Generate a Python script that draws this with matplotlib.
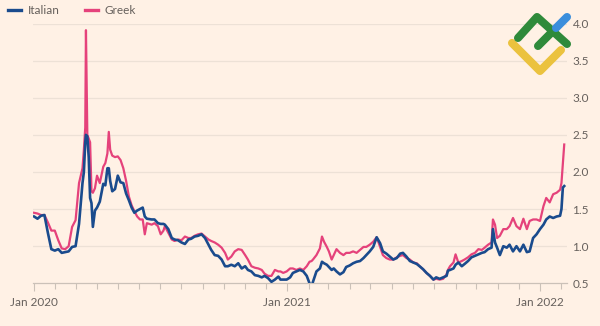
import matplotlib
matplotlib.use("Agg")
import matplotlib.pyplot as plt
import matplotlib.dates as mdates
from matplotlib.lines import Line2D
import pandas as pd

plt.rcParams['font.family'] = ['Lato', 'DejaVu Sans']

# --- data (days since 1 Jan 2020) ---
days = [0, 5, 10, 15, 20, 25, 30, 35, 40, 45, 50, 55, 60, 65, 70, 72, 74, 75, 77, 79,
        81, 83, 85, 88, 91, 95, 100, 103, 106, 108, 110, 113, 117, 121, 125, 129, 133, 137, 141, 145,
        149, 153,
        157, 160, 163, 170, 174, 179, 183, 187, 189, 194, 199, 203, 208, 213, 218, 223, 227, 232,
        237, 242, 247, 252, 256, 261, 266, 271, 276, 280, 285, 290, 295, 300, 305, 309, 314, 319,
        324, 329, 333, 338, 343, 348, 353,
        356, 360, 365, 370, 374, 379, 384, 389, 394, 398, 401, 403, 408, 413, 416, 419, 423, 426,
        430, 433, 437, 442, 447, 451, 456, 461, 466, 471, 476, 480, 485, 490, 495, 500, 504, 509,
        514, 519, 524, 529, 533, 538,
        543, 548, 553, 557, 562, 567, 572, 577, 581, 586, 591, 596, 598, 601, 606, 609, 613, 618,
        622, 627, 632, 637, 642, 647, 651, 656, 661, 663, 666, 669, 673, 678, 683, 687, 692, 697,
        702, 707, 712, 716, 721, 726, 731, 736, 740, 745, 750, 755, 760, 762, 764, 766]

italian = [1.40, 1.37, 1.41, 1.42, 1.18, 0.96, 0.94, 0.96, 0.91, 0.92, 0.93, 0.99, 1.00, 1.30, 1.85, 2.00, 2.40, 2.50, 2.48, 2.20,
           1.65, 1.58, 1.26, 1.48, 1.52, 1.60, 1.84, 1.82, 2.05, 2.05, 1.88, 1.74, 1.77, 1.95, 1.86, 1.85, 1.71, 1.62, 1.52, 1.45,
           1.48, 1.50,
           1.52, 1.40, 1.37, 1.36, 1.36, 1.31, 1.30, 1.30, 1.29, 1.23, 1.11, 1.09, 1.08, 1.05, 1.03, 1.09, 1.10, 1.13,
           1.14, 1.16, 1.11, 1.02, 0.95, 0.88, 0.87, 0.82, 0.73, 0.73, 0.75, 0.73, 0.77, 0.70, 0.73, 0.68, 0.66, 0.61,
           0.60, 0.58, 0.60, 0.57, 0.52, 0.55, 0.59,
           0.55, 0.55, 0.55, 0.58, 0.64, 0.66, 0.68, 0.66, 0.60, 0.50, 0.46, 0.52, 0.66, 0.70, 0.79, 0.77, 0.75, 0.72,
           0.68, 0.70, 0.66, 0.62, 0.65, 0.72, 0.74, 0.77, 0.79, 0.80, 0.84, 0.88, 0.93, 0.99, 1.12, 1.04, 0.93, 0.90,
           0.86, 0.82, 0.84, 0.90, 0.91, 0.86,
           0.80, 0.78, 0.76, 0.73, 0.69, 0.64, 0.60, 0.55, 0.58, 0.56, 0.58, 0.60, 0.67, 0.68, 0.70, 0.75, 0.78, 0.73,
           0.76, 0.80, 0.85, 0.87, 0.89, 0.91, 0.92, 0.96, 0.98, 1.23, 1.05, 0.98, 0.88, 1.00, 0.98, 1.02, 0.93, 1.00,
           0.93, 1.02, 0.92, 0.93, 1.11, 1.16, 1.23, 1.29, 1.36, 1.40, 1.38, 1.40, 1.41, 1.50, 1.79, 1.81]

greek = [1.45, 1.44, 1.42, 1.42, 1.32, 1.21, 1.21, 1.08, 0.97, 0.96, 1.00, 1.26, 1.35, 1.85, 2.05, 2.30, 2.60, 3.91, 2.50, 2.45,
         2.40, 1.74, 1.72, 1.78, 1.95, 1.85, 2.07, 2.12, 2.25, 2.54, 2.30, 2.22, 2.20, 2.21, 2.16, 2.05, 1.88, 1.67, 1.55, 1.47,
         1.40, 1.36,
         1.36, 1.16, 1.31, 1.29, 1.31, 1.27, 1.16, 1.21, 1.27, 1.18, 1.09, 1.07, 1.09, 1.08, 1.13, 1.11, 1.11, 1.14,
         1.16, 1.17, 1.13, 1.09, 1.07, 1.05, 1.02, 0.98, 0.91, 0.82, 0.86, 0.93, 0.96, 0.95, 0.88, 0.82, 0.73, 0.71,
         0.70, 0.68, 0.63, 0.60, 0.60, 0.68, 0.66,
         0.66, 0.64, 0.66, 0.70, 0.70, 0.68, 0.70, 0.68, 0.73, 0.79, 0.80, 0.82, 0.88, 0.97, 1.13, 1.06, 0.99, 0.93,
         0.82, 0.88, 0.96, 0.91, 0.88, 0.91, 0.91, 0.93, 0.91, 0.95, 0.99, 0.99, 1.02, 1.06, 1.12, 0.99, 0.88, 0.84,
         0.82, 0.82, 0.85, 0.87, 0.88, 0.84,
         0.82, 0.78, 0.77, 0.73, 0.69, 0.64, 0.60, 0.55, 0.56, 0.55, 0.56, 0.62, 0.68, 0.73, 0.78, 0.89, 0.78, 0.80,
         0.82, 0.85, 0.89, 0.91, 0.96, 0.95, 0.98, 1.02, 1.05, 1.36, 1.29, 1.11, 1.14, 1.23, 1.23, 1.27, 1.38, 1.27,
         1.23, 1.37, 1.23, 1.34, 1.36, 1.36, 1.34, 1.54, 1.65, 1.59, 1.70, 1.72, 1.76, 1.85, 2.12, 2.37]

series_names = ["Italian", "Greek"]
yticks = [0.5, 1.0, 1.5, 2.0, 2.5, 3.0, 3.5, 4.0]

start = pd.Timestamp("2020-01-01")
dates = start + pd.to_timedelta(days, unit="D")

BG = "#FFF1E5"
BLUE = "#1A4B8D"
PINK = "#E5427B"
GRID = "#EDE1D6"
AXIS = "#CBC1B8"
TXT = "#66605C"

W, H = 600, 326
fig = plt.figure(figsize=(6.0, 3.26), dpi=100, facecolor=BG)
ax = fig.add_axes([33 / W, 1 - 283.3 / H, 534 / W, (283.3 - 23.5) / H])
ax.set_facecolor(BG)

ax.plot(dates, greek, color=PINK, lw=1.6, solid_joinstyle="round", zorder=3)
ax.plot(dates, italian, color=BLUE, lw=1.9, solid_joinstyle="round", zorder=4)

ax.set_ylim(0.5, 4.0)
ax.set_xlim(start - pd.Timedelta(days=1.5), start + pd.Timedelta(days=770))

# y axis on the right, gridlines
ax.yaxis.tick_right()
ax.set_yticks(yticks)
ax.set_yticklabels([f"{v:.1f}" for v in yticks])
ax.tick_params(axis="y", length=0, pad=4, labelsize=8.5, labelcolor=TXT)
for v in yticks[1:]:
    ax.axhline(v, color=GRID, lw=0.9, zorder=1)

for s in ["top", "right", "left"]:
    ax.spines[s].set_visible(False)
ax.spines["bottom"].set_color(AXIS)
ax.spines["bottom"].set_linewidth(0.9)

# x axis: yearly labels, monthly ticks
ax.xaxis.set_major_locator(mdates.YearLocator())
ax.xaxis.set_major_formatter(mdates.DateFormatter("%b %Y"))
ax.xaxis.set_minor_locator(mdates.MonthLocator())
ax.tick_params(axis="x", which="major", length=6, width=0.8, color=AXIS, pad=4,
               labelsize=8.5, labelcolor=TXT)
ax.tick_params(axis="x", which="minor", length=4.3, width=0.8, color=AXIS)

# legend above the plot
handles = [Line2D([], [], color=BLUE, lw=2.4), Line2D([], [], color=PINK, lw=2.4)]
fig.legend(handles, series_names, loc="center left", bbox_to_anchor=(8 / W, 1 - 11 / H),
           ncol=2, frameon=False, fontsize=8.5, handlelength=1.1, handletextpad=0.6,
           columnspacing=2.1, borderpad=0, borderaxespad=0, labelcolor=TXT)

# watermark logo top right
def px(pts):
    return [p[0] / W for p in pts], [1 - p[1] / H for p in pts]

for pts, col in [
    ([(512, 43), (540, 71), (561, 50)], "#EBC23E"),
    ([(518, 38), (537, 17), (567, 44)], "#2F8A3B"),
    ([(538, 46), (551, 33)], "#2F8A3B"),
    ([(556, 28), (567, 17)], "#3B8EDC"),
]:
    xs, ys = px(pts)
    fig.add_artist(Line2D(xs, ys, transform=fig.transFigure, color=col, lw=5.8,
                          solid_capstyle="round", solid_joinstyle="round", zorder=10))

fig.savefig("out.png", dpi=100, facecolor=BG)
